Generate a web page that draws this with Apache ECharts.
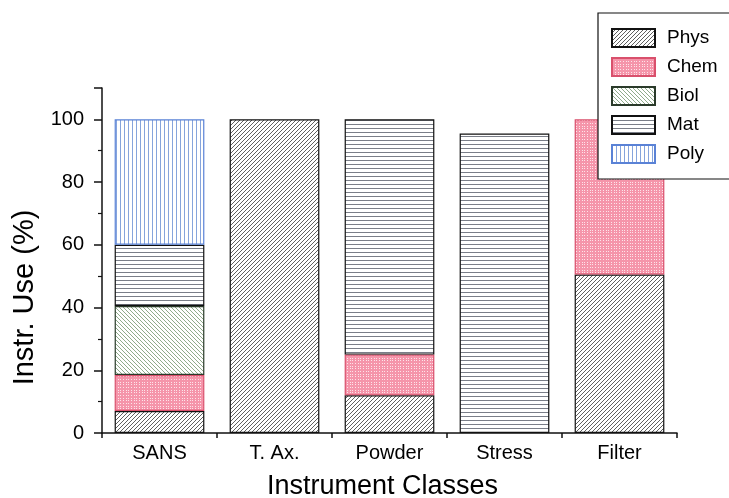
<!DOCTYPE html>
<html><head><meta charset="utf-8">
<script src="https://cdn.jsdelivr.net/npm/echarts@6/dist/echarts.min.js"></script>
<style>html,body{margin:0;padding:0;background:#fff}#c{width:729px;height:498px}</style>
</head><body><div id="c"></div>
<script>
const categories = ['SANS', 'T. Ax.', 'Powder', 'Stress', 'Filter'];
const seriesNames = ['Phys', 'Chem', 'Biol', 'Mat', 'Poly'];
const phys = [7, 100, 12, null, 50.5];
const chem = [11.5, null, 13, null, 49.5];
const biol = [22, null, null, null, null];
const mat  = [19.5, null, 75, 95.5, null];
const poly = [40, null, null, null, null];
const yTicks = [0, 20, 40, 60, 80, 100];

function pat(kind) {
  const c = document.createElement('canvas');
  const s = 8; c.width = s; c.height = s;
  const g = c.getContext('2d');
  g.fillStyle = '#fff'; g.fillRect(0, 0, s, s);
  g.lineWidth = 1;
  if (kind === 'phys') {
    g.strokeStyle = '#606060';
    for (let k = -s; k <= 2 * s; k += 4) { g.beginPath(); g.moveTo(k, s); g.lineTo(k + s, 0); g.stroke(); }
  } else if (kind === 'biol') {
    g.strokeStyle = '#8fab8a';
    for (let k = -s; k <= 2 * s; k += 4) { g.beginPath(); g.moveTo(k, 0); g.lineTo(k + s, s); g.stroke(); }
  } else if (kind === 'chem') {
    g.fillStyle = '#f595aa'; g.fillRect(0, 0, s, s);
    g.fillStyle = '#fde4ea';
    for (let x = 0; x < s; x += 3) for (let y = 0; y < s; y += 3) g.fillRect(x, y, 1, 1);
  } else if (kind === 'mat') {
    g.strokeStyle = '#7a7e88';
    for (let y = 0.5; y < s; y += 4) { g.beginPath(); g.moveTo(0, y); g.lineTo(s, y); g.stroke(); }
  } else if (kind === 'poly') {
    g.strokeStyle = '#86a4dc';
    for (let x = 0.5; x < s; x += 4) { g.beginPath(); g.moveTo(x, 0); g.lineTo(x, s); g.stroke(); }
  }
  return { image: c, repeat: 'repeat' };
}

const dataArr = [phys, chem, biol, mat, poly];
const kinds = ['phys', 'chem', 'biol', 'mat', 'poly'];
const borders = ['#111', '#d9506c', '#2a3a2a', '#111', '#5a82d6'];
const FONT = 'Liberation Sans, Arial';

const chart = echarts.init(document.getElementById('c'), null, { renderer: 'canvas' });
chart.setOption({
  animation: false,
  backgroundColor: '#fff',
  grid: { left: 102, right: 52, top: 88, bottom: 65, outerBoundsMode: 'none', containLabel: false },
  legend: {
    orient: 'vertical', left: 598, top: 13,
    data: seriesNames,
    itemWidth: 43, itemHeight: 18, itemGap: 9,
    padding: [15, 60, 15, 13],
    borderColor: '#111', borderWidth: 1.2, backgroundColor: '#fff',
    textStyle: { fontFamily: FONT, fontSize: 19, color: '#000', padding: [0, 0, 0, 7], lineHeight: 19 },
    icon: 'rect'
  },
  xAxis: {
    type: 'category', data: categories,
    axisLine: { lineStyle: { color: '#111', width: 1.5 } },
    axisTick: { show: true, length: 5, lineStyle: { color: '#111', width: 1.5 } },
    axisLabel: { fontFamily: FONT, fontSize: 20, color: '#000', margin: 10 },
    name: 'Instrument Classes', nameLocation: 'middle', nameGap: 40,
    nameTextStyle: { fontFamily: FONT, fontSize: 27, color: '#000', padding: [0, 14, 0, 0] }
  },
  yAxis: {
    type: 'value', min: 0, max: 110, interval: 20,
    axisLine: { show: true, lineStyle: { color: '#111', width: 1.5 } },
    axisTick: { show: true, length: 8, lineStyle: { color: '#111', width: 1.5 } },
    minorTick: { show: true, splitNumber: 2, length: 4, lineStyle: { color: '#111', width: 1.2 } },
    splitLine: { show: false },
    axisLabel: {
      fontFamily: FONT, fontSize: 20, color: '#000', margin: 18,
      formatter: v => (yTicks.indexOf(v) >= 0 ? String(v) : '')
    },
    name: 'Instr. Use (%)', nameLocation: 'middle', nameGap: 63, nameRotate: 90,
    nameTextStyle: { fontFamily: FONT, fontSize: 29, color: '#000', padding: [0, 74, 0, 0] }
  },
  series: seriesNames.map((n, i) => ({
    name: n, type: 'bar', stack: 'all', barWidth: '78%',
    data: dataArr[i],
    itemStyle: { color: pat(kinds[i]), borderColor: borders[i], borderWidth: 1.2 }
  }))
});
</script></body></html>
